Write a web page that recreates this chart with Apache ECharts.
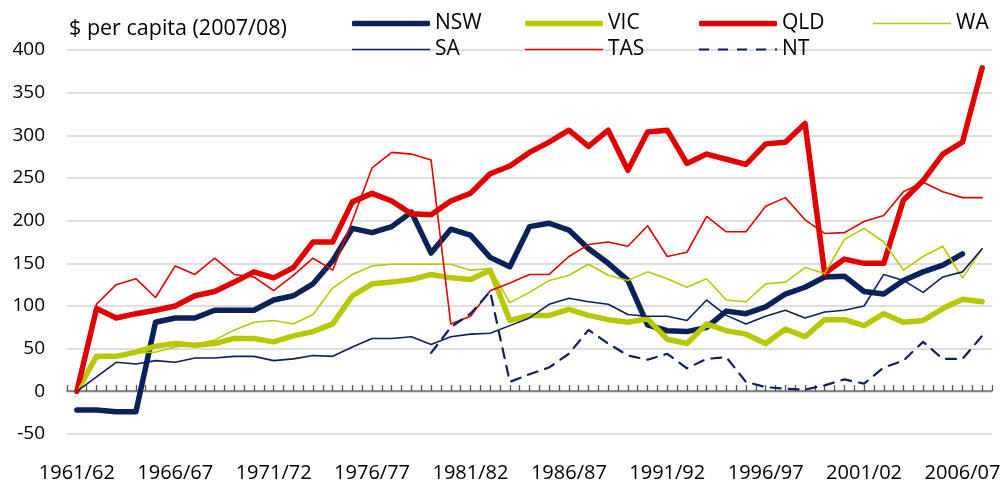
<!DOCTYPE html>
<html>
<head>
<meta charset="utf-8">
<script src="https://cdn.jsdelivr.net/npm/echarts@6/dist/echarts.min.js"></script>
<style>
  html, body { margin: 0; padding: 0; background: #fff; }
  #chart { width: 1003px; height: 483px; }
</style>
</head>
<body>
<div id="chart"></div>
<script>
// financial years on the category axis
var years = ['1961/62','1962/63','1963/64','1964/65','1965/66','1966/67','1967/68','1968/69','1969/70','1970/71',
  '1971/72','1972/73','1973/74','1974/75','1975/76','1976/77','1977/78','1978/79','1979/80','1980/81',
  '1981/82','1982/83','1983/84','1984/85','1985/86','1986/87','1987/88','1988/89','1989/90','1990/91',
  '1991/92','1992/93','1993/94','1994/95','1995/96','1996/97','1997/98','1998/99','1999/00','2000/01',
  '2001/02','2002/03','2003/04','2004/05','2005/06','2006/07','2007/08'];

// $ per capita (2007/08)
var nsw = [-22,-22,-24,-24,81,86,86,95,95,95,107,112,126,153,191,186,193,210,162,190,183,157,146,193,197,189,167,150,130,78,71,70,75,94,91,99,114,122,134,135,117,114,130,140,148,161,null];
var vic = [0,41,41,46,53,56,54,56,62,62,58,65,70,79,112,126,128,131,137,133,131,142,83,89,89,96,89,84,81,85,61,56,79,71,67,56,73,64,84,84,77,91,81,83,97,108,105];
var qld = [0,97,86,91,95,100,112,117,128,140,133,145,175,175,222,232,223,208,207,223,232,255,264,280,292,306,287,306,259,304,306,267,278,272,266,290,292,314,138,155,150,150,224,247,278,292,379];
var wa  = [0,38,42,45,46,52,55,60,72,81,83,79,90,121,137,147,149,149,149,149,142,144,104,116,130,136,149,136,130,140,132,122,132,107,105,126,128,145,138,178,191,175,142,158,170,133,167];
var sa  = [0,17,34,32,36,34,39,39,41,41,36,38,42,41,52,62,62,64,55,64,67,68,77,86,102,109,105,102,90,88,88,83,107,89,79,88,95,86,93,95,100,137,130,116,134,140,167];
var tas = [0,102,125,132,110,147,137,156,137,134,118,136,156,142,200,262,280,278,271,79,88,118,127,137,137,158,172,175,170,194,158,163,205,187,187,217,227,201,185,186,199,206,234,245,234,227,227];
var nt  = [null,null,null,null,null,null,null,null,null,null,null,null,null,null,null,null,null,null,45,75,91,117,11,20,28,44,72,56,42,37,44,27,38,40,11,5,3,2,7,14,9,28,36,58,38,38,65];

var names = ['NSW','VIC','QLD','WA','SA','TAS','NT'];
var values = [nsw, vic, qld, wa, sa, tas, nt];

var navy = '#0b2159';
var green = '#b8c800';
var red = '#e00000';
var font = 'Open Sans';

var styles = [
  { color: navy, width: 5.5, icon: 'roundRect' },
  { color: green, width: 5.5, icon: 'roundRect' },
  { color: red, width: 5.5, icon: 'roundRect' },
  { color: green, width: 1.6, icon: 'rect' },
  { color: navy, width: 1.6, icon: 'rect' },
  { color: red, width: 1.6, icon: 'rect' },
  { color: navy, width: 2.2, type: [10, 8],
    icon: 'path://M0,0h10v2h-10z M19,0h10v2h-10z M38,0h10v2h-10z M57,0h10v2h-10z M76,0h2v2h-2z' }
];

// legend slots, two rows (x, top)
var legendPos = [[352, 13], [525, 13], [699, 13], [873, 13], [352, 39], [525, 39], [699, 39]];

var myChart = echarts.init(document.getElementById('chart'));

var series = [];
var legends = [];
for (var k = 0; k < names.length; k++) {
  var st = styles[k];
  series.push({
    name: names[k],
    type: 'line',
    data: values[k],
    symbol: 'none',
    animation: false,
    lineStyle: { color: st.color, width: st.width, type: st.type || 'solid', cap: 'round', join: 'round' },
    itemStyle: { color: st.color }
  });
  legends.push({
    data: [{ name: names[k], icon: st.icon }],
    left: legendPos[k][0],
    top: legendPos[k][1],
    padding: 0,
    itemWidth: 78,
    itemHeight: st.width,
    selectedMode: false,
    itemStyle: { color: st.color, borderWidth: 0 },
    textStyle: { fontSize: 21, color: '#000', fontFamily: font }
  });
}

var tickStyle = { color: '#555', width: 1.3 };

var option = {
  animation: false,
  title: {
    text: '$ per capita (2007/08)',
    left: 69,
    top: 18,
    padding: 0,
    textStyle: { fontSize: 21.5, fontWeight: 'normal', color: '#000', fontFamily: font }
  },
  legend: legends,
  grid: { left: 67, right: 11, top: 50, bottom: 49, containLabel: false, outerBoundsMode: 'none' },
  xAxis: [
    {
      // ticks between the years, with the year labels
      type: 'category',
      data: years,
      boundaryGap: true,
      position: 'bottom',
      offset: -43,  // zero line sits 43px above the grid bottom
      axisLine: { onZero: false, lineStyle: { color: '#666', width: 1.5 } },
      axisTick: { show: true, inside: true, length: 6, interval: 0, alignWithLabel: false, lineStyle: tickStyle },
      splitLine: { show: false },
      axisLabel: { interval: 4, margin: 72, fontSize: 20, lineHeight: 20, color: '#000', fontFamily: font }
    },
    {
      // ticks on the years themselves
      type: 'category',
      data: years,
      boundaryGap: true,
      position: 'bottom',
      offset: -43,
      axisLine: { show: false, onZero: false },
      axisTick: { show: true, inside: true, length: 6, interval: 0, alignWithLabel: true, lineStyle: tickStyle },
      splitLine: { show: false },
      axisLabel: { show: false }
    }
  ],
  yAxis: {
    type: 'value',
    min: -50,
    max: 400,
    interval: 50,
    axisLine: { show: false },
    axisTick: { show: false },
    axisLabel: { fontSize: 19, color: '#000', margin: 22, fontFamily: font },
    splitLine: { lineStyle: { color: '#d4d4d4', width: 1.5 } }
  },
  series: series
};

myChart.setOption(option);
</script>
</body>
</html>
